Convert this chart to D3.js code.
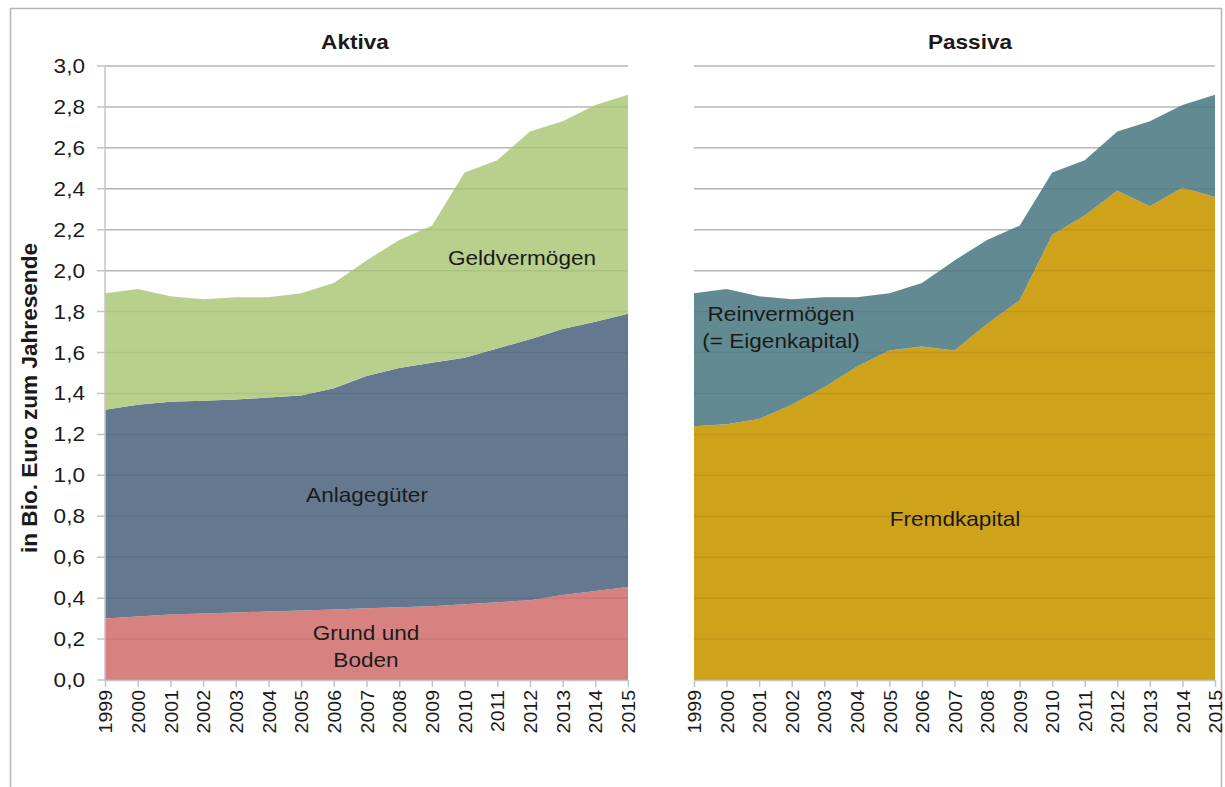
<!DOCTYPE html>
<html>
<head>
<meta charset="utf-8">
<script src="https://cdn.jsdelivr.net/npm/d3@7"></script>
<style>
  body { margin: 0; background: #fff; }
  text { font-family: "Liberation Sans", Arial, sans-serif; fill: #1a1a1a; }
</style>
</head>
<body>
<div id="chart"></div>
<script>
// Data (Bio. Euro, year end)
const years = [1999, 2000, 2001, 2002, 2003, 2004, 2005, 2006, 2007, 2008, 2009, 2010, 2011, 2012, 2013, 2014, 2015];

// Aktiva
const grundUndBoden = [0.30, 0.31, 0.32, 0.325, 0.33, 0.335, 0.34, 0.345, 0.35, 0.355, 0.36, 0.37, 0.38, 0.39, 0.415, 0.435, 0.455];
const anlagegueter  = [1.02, 1.035, 1.04, 1.04, 1.04, 1.045, 1.05, 1.08, 1.135, 1.17, 1.19, 1.205, 1.24, 1.275, 1.30, 1.315, 1.335];
const geldvermoegen = [0.57, 0.565, 0.515, 0.495, 0.50, 0.49, 0.50, 0.515, 0.565, 0.625, 0.67, 0.905, 0.92, 1.015, 1.015, 1.06, 1.07];

// Passiva
const fremdkapital  = [1.24, 1.25, 1.275, 1.345, 1.43, 1.53, 1.61, 1.63, 1.61, 1.74, 1.855, 2.175, 2.27, 2.39, 2.315, 2.405, 2.36];
const reinvermoegen = [0.65, 0.66, 0.60, 0.515, 0.44, 0.34, 0.28, 0.31, 0.44, 0.41, 0.365, 0.305, 0.27, 0.29, 0.415, 0.405, 0.50];

const yTicks = [0, 0.2, 0.4, 0.6, 0.8, 1.0, 1.2, 1.4, 1.6, 1.8, 2.0, 2.2, 2.4, 2.6, 2.8, 3.0];

///////////////////////////////////////////////////////////////////////////////
// Layout
const W = 1225, H = 787;
const plotTop = 66, plotBottom = 680;
const stretch = 1.13;   // the source text is a little wider than Arial

const svg = d3.select("#chart").append("svg")
    .attr("width", W)
    .attr("height", H);

// outer frame
svg.append("rect")
    .attr("x", 10.5).attr("y", 8.5)
    .attr("width", 1211).attr("height", 800)
    .attr("fill", "none")
    .attr("stroke", "#b5b5b5")
    .attr("stroke-width", 1.5);

const y = d3.scaleLinear().domain([0, 3]).range([plotBottom, plotTop]);
const fmt = d => d3.format(".1f")(d).replace(".", ",");

const panels = [
  {title: "Aktiva", titleX: 355, x0: 105, x1: 628, showY: true,
   keys: ["grund", "anlage", "geld"],
   colors: {grund: "#d78281", anlage: "#647890", geld: "#b9d08c"},
   values: {grund: grundUndBoden, anlage: anlagegueter, geld: geldvermoegen},
   labels: [
     {lines: ["Geldvermögen"], x: 522, y: 265},
     {lines: ["Anlagegüter"], x: 367, y: 502},
     {lines: ["Grund und", "Boden"], x: 366, y: 640}
   ]},
  {title: "Passiva", titleX: 970, x0: 694, x1: 1215, showY: false,
   keys: ["fremd", "rein"],
   colors: {fremd: "#cfa21b", rein: "#628a92"},
   values: {fremd: fremdkapital, rein: reinvermoegen},
   labels: [
     {lines: ["Reinvermögen", "(= Eigenkapital)"], x: 781, y: 321},
     {lines: ["Fremdkapital"], x: 955, y: 526}
   ]}
];

panels.forEach(p => {
  const x = d3.scalePoint().domain(years).range([p.x0, p.x1]);
  const g = svg.append("g");

  const rows = years.map((yr, i) => {
    const r = {year: yr};
    p.keys.forEach(k => r[k] = p.values[k][i]);
    return r;
  });
  const series = d3.stack().keys(p.keys)(rows);

  const area = d3.area()
      .x(d => x(d.data.year))
      .y0(d => y(d[0]))
      .y1(d => y(d[1]));

  // grid under the areas
  g.append("g").selectAll("line")
    .data(yTicks)
    .enter().append("line")
      .attr("x1", p.showY ? p.x0 - 8 : p.x0)
      .attr("x2", p.x1)
      .attr("y1", d => y(d)).attr("y2", d => y(d))
      .attr("stroke", "#c4c4c4")
      .attr("stroke-width", 1.5);

  g.selectAll(".area")
    .data(series)
    .enter().append("path")
      .attr("class", "area")
      .attr("d", area)
      .attr("fill", d => p.colors[d.key]);

  // grid showing faintly through the areas
  g.append("g").selectAll("line")
    .data(yTicks.slice(1))
    .enter().append("line")
      .attr("x1", p.x0).attr("x2", p.x1)
      .attr("y1", d => y(d)).attr("y2", d => y(d))
      .attr("stroke", "#000")
      .attr("stroke-opacity", 0.07)
      .attr("stroke-width", 1.5);

  // x axis
  const xAxis = g.append("g")
      .attr("transform", `translate(0, ${plotBottom})`)
      .call(d3.axisBottom(x).tickSize(7).tickSizeOuter(0));
  xAxis.select(".domain").attr("stroke", "#c4c4c4").attr("stroke-width", 1.5);
  xAxis.selectAll(".tick line").attr("stroke", "#c4c4c4").attr("stroke-width", 1.5);
  xAxis.selectAll(".tick text")
      .attr("font-size", 19)
      .attr("fill", "#1a1a1a")
      .attr("text-anchor", "end")
      .attr("dy", "0.35em")
      .attr("transform", "translate(0, 10) rotate(-90) scale(1.03, 1)")
      .attr("x", 0).attr("y", 0);

  if (p.showY) {
    g.append("line")
      .attr("x1", p.x0).attr("x2", p.x0)
      .attr("y1", plotTop).attr("y2", plotBottom)
      .attr("stroke", "#c4c4c4").attr("stroke-width", 1.5);

    g.append("g").selectAll("text")
      .data(yTicks)
      .enter().append("text")
        .attr("transform", d => `translate(${p.x0 - 20}, ${y(d)}) scale(${stretch}, 1)`)
        .attr("dy", "0.35em")
        .attr("text-anchor", "end")
        .attr("font-size", 20)
        .text(fmt);
  }

  g.append("text")
    .attr("transform", `translate(${p.titleX}, 49) scale(${stretch}, 1)`)
    .attr("text-anchor", "middle")
    .attr("font-size", 20)
    .attr("font-weight", "bold")
    .text(p.title);

  p.labels.forEach(l => {
    g.append("text")
      .attr("transform", `translate(${l.x}, ${l.y}) scale(${stretch}, 1)`)
      .attr("text-anchor", "middle")
      .attr("font-size", 20)
      .selectAll("tspan")
      .data(l.lines)
      .enter().append("tspan")
        .attr("x", 0)
        .attr("dy", (d, i) => i ? 27 : 0)
        .text(d => d);
  });
});

// y axis title
svg.append("text")
    .attr("transform", `translate(37, 398) rotate(-90) scale(${stretch}, 1.08)`)
    .attr("text-anchor", "middle")
    .attr("font-size", 20)
    .attr("font-weight", "bold")
    .text("in Bio. Euro zum Jahresende");
</script>
</body>
</html>
